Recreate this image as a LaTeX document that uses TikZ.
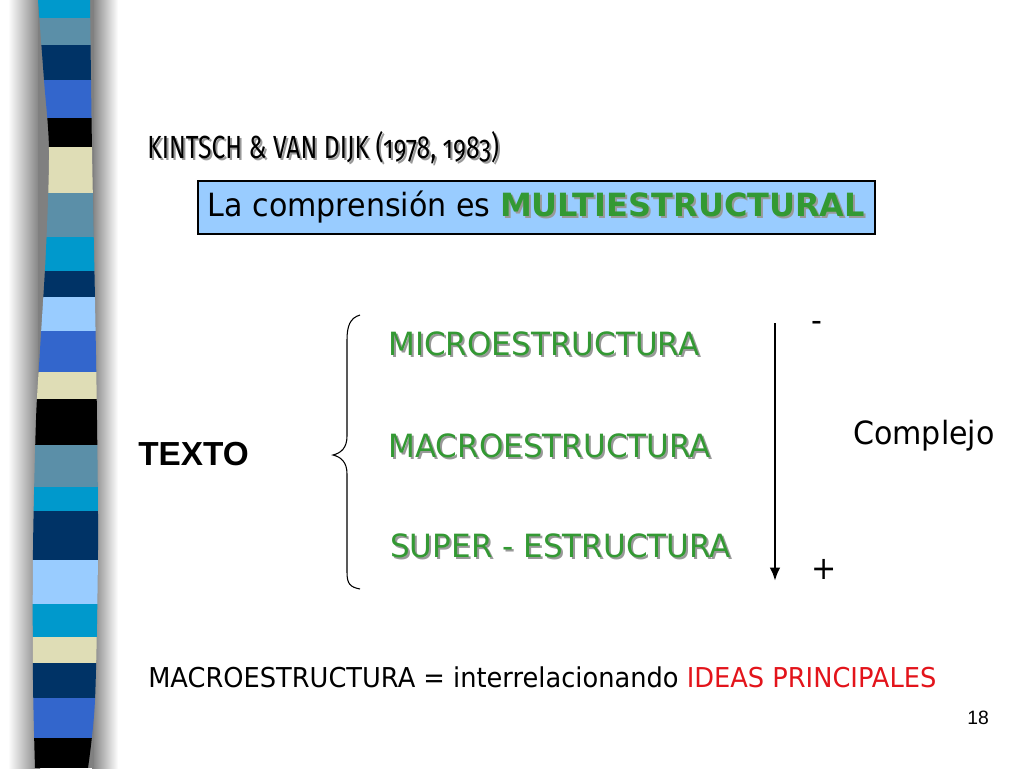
\documentclass[tikz,border=0pt]{standalone}
\usepackage{fontspec}
\setmainfont{DejaVu Sans}[FakeStretch=0.94]
\newfontfamily\levelfont{DejaVu Sans}[FakeStretch=0.97]
\newfontfamily\widebold{DejaVu Sans Bold}
\newfontfamily\titlefont{Fira Sans}[Numbers=OldStyle,FakeStretch=0.77]
\newfontfamily\arialfont{Liberation Sans}
\usetikzlibrary{positioning,arrows.meta}

\definecolor{boxblue}{HTML}{99CCFF}
\definecolor{leafgreen}{HTML}{339933}
\definecolor{ideared}{HTML}{E3141B}
\definecolor{cyanb}{HTML}{0099CC}
\definecolor{tealb}{HTML}{5B8FA8}
\definecolor{navyb}{HTML}{003366}
\definecolor{royalb}{HTML}{3366CC}
\definecolor{beigeb}{HTML}{DFDDB6}
\definecolor{lightb}{HTML}{99CCFF}

\newcommand\shadowed[2][black!40]{\makebox[0pt][l]{\hspace{1.5pt}\raisebox{-1.5pt}{\color{#1}#2}}#2}

\begin{document}
\begin{tikzpicture}[x=0.75pt, y=-0.75pt, >={Latex[length=10pt,width=8pt]},
    every node/.style={inner sep=0pt, anchor=base west},
    level/.style={text=leafgreen, font=\levelfont\fontsize{24}{28}\selectfont}]
    \useasboundingbox (0,0) rectangle (1024,768);
    \fill[white] (0,0) rectangle (1024,768);

    % side strip
    \shade[left color=white, right color=black!50] (8,0) rectangle (40,768);
    \shade[left color=black!50, right color=white] (92,0) rectangle (118,768);
    \fill[black!50] (38,0) rectangle (94,768);
    \begin{scope}
        \clip plot[smooth] coordinates {(38,0) (44,80) (49,150) (46,250) (40,350) (36,420) (33,550) (33,680) (35,768)}
            -- plot[smooth] coordinates {(88,768) (95,700) (98,550) (97,420) (95,300) (92,150) (90,0)} -- cycle;
        \foreach \ya/\yb/\c in {0/18/cyanb, 18/45/tealb, 45/80/navyb, 80/118/royalb, 118/147/black,
            147/193/beigeb, 193/237/tealb, 237/271/cyanb, 271/297/navyb, 297/331/lightb, 331/372/royalb,
            372/399/beigeb, 399/445/black, 445/487/tealb, 487/511/cyanb, 511/560/navyb, 560/604/lightb,
            604/637/cyanb, 637/663/beigeb, 663/698/navyb, 698/738/royalb, 738/768/black}
            \fill[\c] (20,\ya) rectangle (110,\yb);
    \end{scope}

    \node[font=\titlefont\fontsize{24}{28}\selectfont] at (147, 158)(title){\shadowed{KINTSCH \& VAN DIJK (1978, 1983)}};
    \node[draw, fill=boxblue, line width=1.5pt, anchor=north west, minimum height=39.75pt,
        minimum width=507.75pt, font=\fontsize{24}{28}\selectfont] at (197, 180)(claim)
        {La comprensión es \textcolor{leafgreen}{\widebold\shadowed{MULTIESTRUCTURAL}}};

    \node[font=\arialfont\bfseries\fontsize{25}{29}\selectfont] at (138, 465)(texto){TEXTO};
    \node[level] at (388, 355)(micro){\shadowed{MICROESTRUCTURA}};
    \node[level] at (388, 457)(macro){\shadowed{MACROESTRUCTURA}};
    \node[level] at (390, 557)(super){\shadowed{SUPER - ESTRUCTURA}};

    \draw[line width=0.8pt] (360,315) .. controls (350,318) and (347,326) .. (347,340) -- (347,436)
        .. controls (347,448) and (341,453) .. (333,455) .. controls (341,457) and (347,462) .. (347,474)
        -- (347,572) .. controls (347,584) and (350,587) .. (360,589);

    \node[font=\fontsize{24}{28}\selectfont] at (811, 331)(less){-};
    \node[font=\fontsize{24}{28}\selectfont] at (811, 579)(more){+};
    \node[font=\fontsize{24}{28}\selectfont] at (853, 444)(complejo){Complejo};
    \coordinate (top) at (775, 323);
    \coordinate (bottom) at (775, 581);
    \draw[->, line width=2.2pt] (top) -- (bottom);

    \node[font=\fontsize{20.5}{24}\selectfont] at (148, 687)(meaning)
        {MACROESTRUCTURA = interrelacionando \textcolor{ideared}{IDEAS PRINCIPALES}};
    \node[font=\arialfont\fontsize{14.5}{17}\selectfont] at (967, 724)(page){18};
\end{tikzpicture}
\end{document}
